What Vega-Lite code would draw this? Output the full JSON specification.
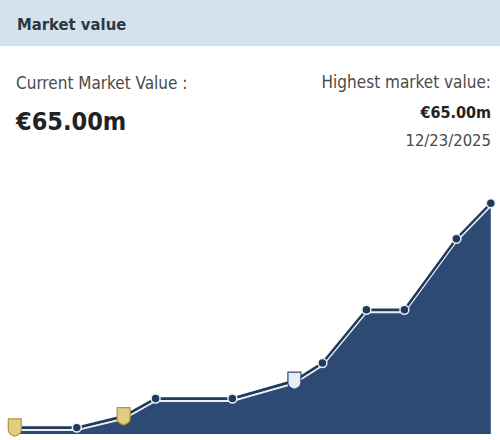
{
  "$schema": "https://vega.github.io/schema/vega-lite/v6.json",
  "padding": 0,
  "background": "white",
  "spacing": 0,
  "config": {
    "view": {"stroke": null},
    "font": "DejaVu Sans Condensed, Roboto, sans-serif",
    "concat": {"spacing": 0},
    "title": {"font": "DejaVu Sans Condensed, Roboto, sans-serif", "subtitleFont": "DejaVu Sans Condensed, Roboto, sans-serif"}
  },
  "datasets": {
    "blank": [{}],
    "mv": [
      {"date": "2022-09-20", "value": 1.8, "crest": "Real Madrid"},
      {"date": "2023-02-22", "value": 1.8, "crest": ""},
      {"date": "2023-06-19", "value": 5, "crest": "Real Madrid"},
      {"date": "2023-09-07", "value": 10, "crest": ""},
      {"date": "2024-03-17", "value": 10, "crest": ""},
      {"date": "2024-08-19", "value": 15, "crest": "Como"},
      {"date": "2024-10-28", "value": 20, "crest": ""},
      {"date": "2025-02-15", "value": 35, "crest": ""},
      {"date": "2025-05-21", "value": 35, "crest": ""},
      {"date": "2025-09-28", "value": 55, "crest": ""},
      {"date": "2025-12-23", "value": 65, "crest": ""}
    ]
  },
  "vconcat": [
    {
      "width": 500,
      "height": 46,
      "view": {"fill": "#d3e2ec", "stroke": null},
      "data": {"name": "blank"},
      "mark": {"type": "text"},
      "encoding": {"text": {"value": ""}},
      "title": {
        "text": "Market value",
        "anchor": "start",
        "orient": "top",
        "frame": "group",
        "offset": -33,
        "dx": 17,
        "fontSize": 16.5,
        "fontWeight": "bold",
        "color": "#2e3742"
      }
    },
    {
      "spacing": 0,
      "hconcat": [
        {
          "width": 250,
          "height": 104,
          "data": {"name": "blank"},
          "mark": {"type": "text"},
          "encoding": {"text": {"value": ""}},
          "title": {
            "text": "Current Market Value :",
            "subtitle": "€65.00m",
            "anchor": "start",
            "orient": "top",
            "frame": "group",
            "offset": -90,
            "dx": 16,
            "fontSize": 17,
            "fontWeight": "normal",
            "color": "#4a4a4a",
            "subtitleFontSize": 25,
            "subtitleFontWeight": "bold",
            "subtitleColor": "#222222",
            "subtitlePadding": 17
          }
        },
        {
          "spacing": 0,
          "vconcat": [
            {
              "width": 250,
              "height": 76,
              "data": {"name": "blank"},
              "mark": {"type": "text"},
              "encoding": {"text": {"value": ""}},
              "title": {
                "text": "Highest market value:",
                "subtitle": "€65.00m",
                "anchor": "end",
                "orient": "top",
                "frame": "group",
                "offset": -76,
                "dx": -9,
                "fontSize": 17,
                "fontWeight": "normal",
                "color": "#4a4a4a",
                "subtitleFontSize": 16,
                "subtitleFontWeight": "bold",
                "subtitleColor": "#222222",
                "subtitlePadding": 13
              }
            },
            {
              "width": 250,
              "height": 28,
              "data": {"name": "blank"},
              "mark": {"type": "text"},
              "encoding": {"text": {"value": ""}},
              "title": {
                "text": "12/23/2025",
                "anchor": "end",
                "orient": "top",
                "frame": "group",
                "offset": -27,
                "dx": -9,
                "fontSize": 16.5,
                "fontWeight": "normal",
                "color": "#4a4a4a"
              }
            }
          ]
        }
      ]
    },
    {
      "width": 500,
      "height": 284,
      "data": {"name": "mv"},
      "encoding": {
        "x": {
          "field": "date",
          "type": "temporal",
          "scale": {"domain": [{"year": 2022, "month": 8, "date": 14}, {"year": 2026, "month": 1, "date": 15}]},
          "axis": null
        },
        "y": {
          "field": "value",
          "type": "quantitative",
          "scale": {"domain": [0, 80], "nice": false},
          "axis": null
        }
      },
      "layer": [
        {"mark": {"type": "area", "color": "#2c4a73", "opacity": 1}},
        {"mark": {"type": "line", "color": "#e9eff5", "strokeWidth": 2, "yOffset": 2.5}},
        {"mark": {"type": "line", "color": "#1f3a5c", "strokeWidth": 2.5}},
        {
          "transform": [{"filter": "datum.crest == ''"}],
          "mark": {"type": "point", "filled": true, "size": 80, "fill": "#1f3a5c", "stroke": "#e9eff5", "strokeWidth": 1.5, "opacity": 1}
        },
        {
          "transform": [{"filter": "datum.crest != ''"}],
          "mark": {
            "type": "point",
            "filled": true,
            "shape": "M-0.75,-1L0.75,-1L0.75,0.25Q0.75,0.75 0,1Q-0.75,0.75 -0.75,0.25Z",
            "size": 300,
            "strokeWidth": 1.2,
            "opacity": 1
          },
          "encoding": {
            "fill": {"field": "crest", "type": "nominal", "scale": {"domain": ["Real Madrid", "Como"], "range": ["#e3cd84", "#e6edf4"]}, "legend": null},
            "stroke": {"field": "crest", "type": "nominal", "scale": {"domain": ["Real Madrid", "Como"], "range": ["#b8953a", "#2c4a73"]}, "legend": null}
          }
        }
      ]
    }
  ]
}
